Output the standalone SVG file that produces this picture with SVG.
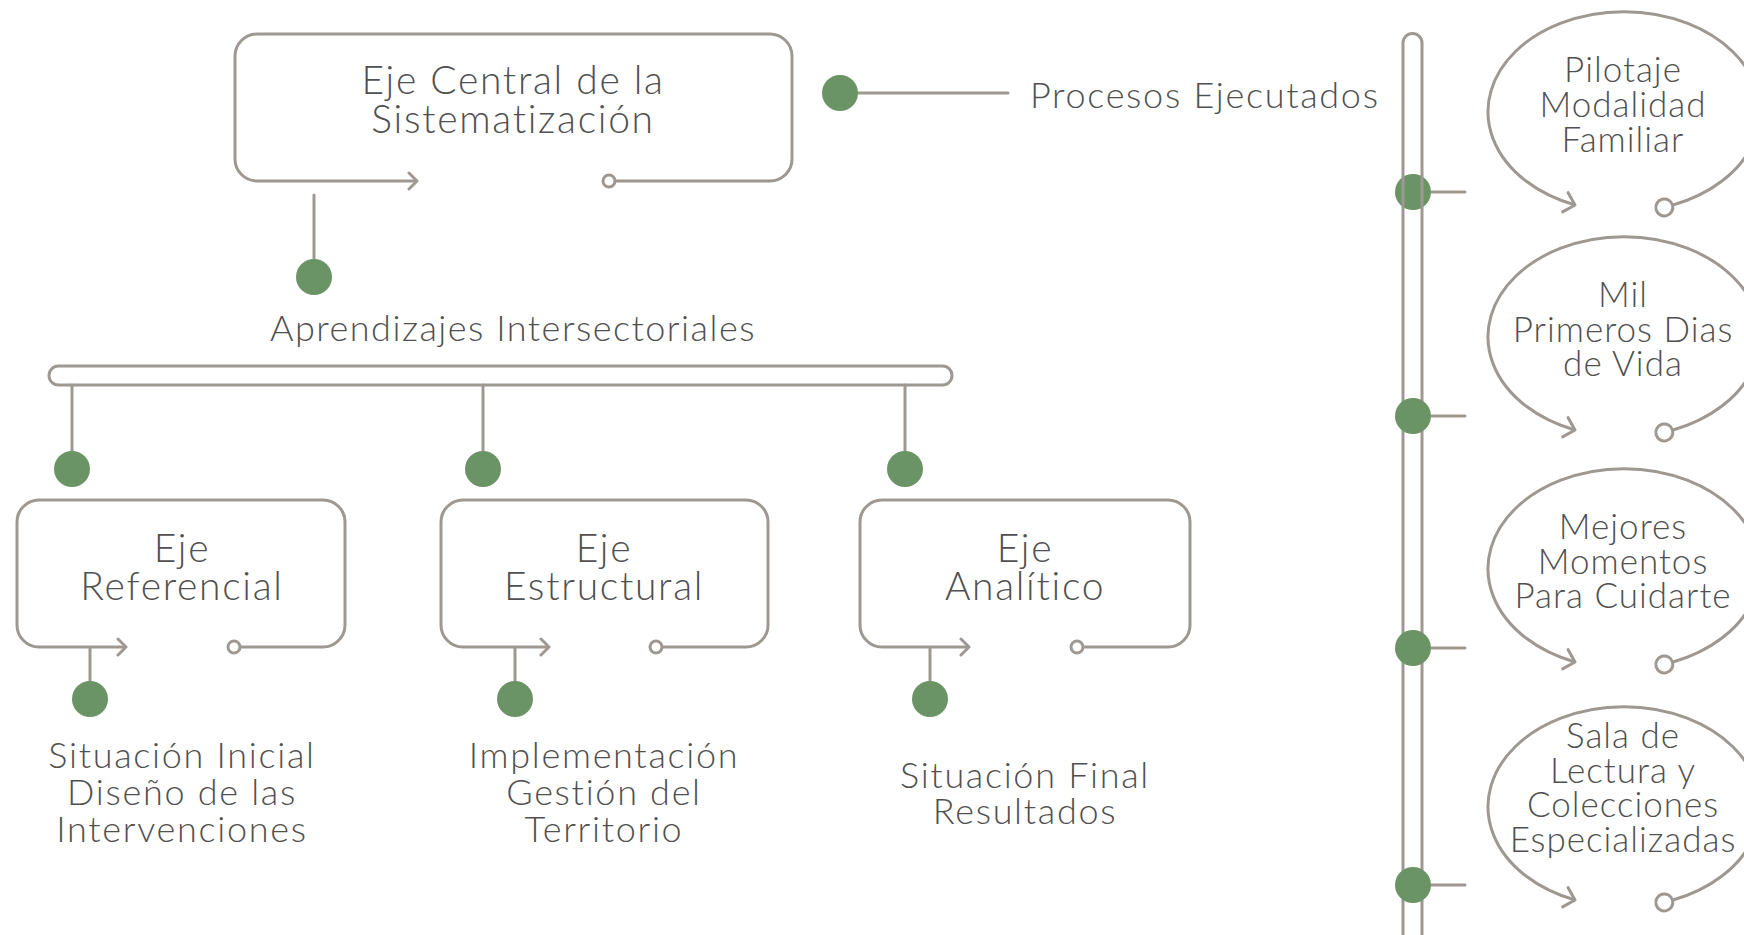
<svg xmlns="http://www.w3.org/2000/svg" width="1744" height="935" viewBox="0 0 1744 935">
<defs>
<style>
.ln{fill:none;stroke:#9e9892;stroke-width:3;stroke-linecap:round;stroke-linejoin:round}
.box{fill:none;stroke:#9e9892;stroke-width:3;marker-start:url(#arr);marker-end:url(#ring)}
.bub{fill:none;stroke:#9e9892;stroke-width:3;marker-start:url(#arrB);marker-end:url(#ringB)}
.dot{fill:#6b9466}
.t{font-family:Lato,"Liberation Sans",sans-serif;font-weight:300;font-size:36px;fill:#505050;text-anchor:middle}
.tb{font-size:39px;letter-spacing:1.7px}
.ts{font-size:36px;letter-spacing:1.7px}
.tm{letter-spacing:1.7px}
.tu{font-size:35px;letter-spacing:1px}
</style>
<marker id="arr" markerUnits="userSpaceOnUse" viewBox="0 0 16 20" markerWidth="16" markerHeight="20" refX="12" refY="10" orient="auto-start-reverse">
<path d="M4 2 L12 10 L4 18" fill="none" stroke="#9e9892" stroke-width="3" stroke-linecap="round" stroke-linejoin="round"/>
</marker>
<marker id="ring" markerUnits="userSpaceOnUse" viewBox="0 0 20 20" markerWidth="20" markerHeight="20" refX="3" refY="10" orient="auto">
<circle cx="10" cy="10" r="6" fill="#fff" stroke="#9e9892" stroke-width="3"/>
</marker>
<marker id="arrB" markerUnits="userSpaceOnUse" viewBox="0 0 20 24" markerWidth="20" markerHeight="24" refX="15" refY="12" orient="auto-start-reverse">
<path d="M5 2 L15 12 L5 22" fill="none" stroke="#9e9892" stroke-width="3" stroke-linecap="round" stroke-linejoin="round"/>
</marker>
<marker id="ringB" markerUnits="userSpaceOnUse" viewBox="0 0 24 24" markerWidth="24" markerHeight="24" refX="3" refY="12" orient="auto">
<circle cx="12" cy="12" r="8.5" fill="#fff" stroke="#9e9892" stroke-width="3"/>
</marker>
</defs>
<rect width="1744" height="935" fill="#fff"/>

<g id="connectors">
<path class="ln" d="M314 195 V262"/>
<path class="ln" d="M858 93 H1008"/>
<path class="ln" d="M72 385 V452"/>
<path class="ln" d="M483 385 V452"/>
<path class="ln" d="M905 385 V452"/>
<path class="ln" d="M90 648 V682"/>
<path class="ln" d="M515 648 V682"/>
<path class="ln" d="M930 648 V682"/>
<path class="ln" d="M1413 192 H1465"/>
<path class="ln" d="M1413 416 H1465"/>
<path class="ln" d="M1413 648 H1465"/>
<path class="ln" d="M1413 885 H1465"/>
</g>

<g id="dot-first"><circle class="dot" cx="1413" cy="192" r="18"/></g>

<g id="timeline">
<path class="ln" d="M1403 940 V43 A9.5 9.5 0 0 1 1422 43 V940"/>
</g>

<g id="dots">
<circle class="dot" cx="314" cy="277" r="18"/>
<circle class="dot" cx="840" cy="93" r="18"/>
<circle class="dot" cx="72" cy="469" r="18"/>
<circle class="dot" cx="483" cy="469" r="18"/>
<circle class="dot" cx="905" cy="469" r="18"/>
<circle class="dot" cx="90" cy="699" r="18"/>
<circle class="dot" cx="515" cy="699" r="18"/>
<circle class="dot" cx="930" cy="699" r="18"/>
<circle class="dot" cx="1413" cy="416" r="18"/>
<circle class="dot" cx="1413" cy="648" r="18"/>
<circle class="dot" cx="1413" cy="885" r="18"/>
</g>

<g id="central">
<path class="box" d="M417 181 H257 A22 22 0 0 1 235 159 V56 A22 22 0 0 1 257 34 H770 A22 22 0 0 1 792 56 V159 A22 22 0 0 1 770 181 H616"/>
<text class="t tb" x="513" y="94">Eje Central de la</text>
<text class="t tb" x="513" y="133">Sistematización</text>
</g>

<g id="procesos">
<text class="t tm" x="1030" y="108" style="text-anchor:start">Procesos Ejecutados</text>
</g>

<g id="aprendizajes">
<text class="t" x="513" y="341" style="letter-spacing:1.5px">Aprendizajes Intersectoriales</text>
<rect class="ln" x="49" y="366" width="903" height="19" rx="9.5"/>
</g>

<g id="referencial">
<path class="box" d="M126 647 H39 A22 22 0 0 1 17 625 V522 A22 22 0 0 1 39 500 H323 A22 22 0 0 1 345 522 V625 A22 22 0 0 1 323 647 H241"/>
<text class="t tb" x="182" y="562">Eje</text>
<text class="t tb" x="182" y="600">Referencial</text>
</g>
<g id="estructural">
<path class="box" d="M549 647 H463 A22 22 0 0 1 441 625 V522 A22 22 0 0 1 463 500 H746 A22 22 0 0 1 768 522 V625 A22 22 0 0 1 746 647 H663"/>
<text class="t tb" x="604" y="562">Eje</text>
<text class="t tb" x="604" y="600">Estructural</text>
</g>
<g id="analitico">
<path class="box" d="M969 647 H882 A22 22 0 0 1 860 625 V522 A22 22 0 0 1 882 500 H1168 A22 22 0 0 1 1190 522 V625 A22 22 0 0 1 1168 647 H1084"/>
<text class="t tb" x="1025" y="562">Eje</text>
<text class="t tb" x="1025" y="600">Analítico</text>
</g>

<g id="situacion-inicial">
<text class="t ts" x="182" y="768">Situación Inicial</text>
<text class="t ts" x="182" y="805">Diseño de las</text>
<text class="t ts" x="182" y="842">Intervenciones</text>
</g>
<g id="implementacion">
<text class="t ts" x="604" y="768">Implementación</text>
<text class="t ts" x="604" y="805">Gestión del</text>
<text class="t ts" x="604" y="842">Territorio</text>
</g>
<g id="situacion-final">
<text class="t ts" x="1025" y="788">Situación Final</text>
<text class="t ts" x="1025" y="824">Resultados</text>
</g>

<g id="pilotaje">
<path class="bub" d="M1575 205 A136 100 0 1 1 1673 205"/>
<text class="t tu" x="1623" y="82">Pilotaje</text>
<text class="t tu" x="1623" y="117">Modalidad</text>
<text class="t tu" x="1623" y="152">Familiar</text>
</g>
<g id="mil-dias">
<path class="bub" d="M1575 430 A136 100 0 1 1 1673 430"/>
<text class="t tu" x="1623" y="307">Mil</text>
<text class="t tu" x="1623" y="342">Primeros Dias</text>
<text class="t tu" x="1623" y="376">de Vida</text>
</g>
<g id="mejores-momentos">
<path class="bub" d="M1575 662 A136 100 0 1 1 1673 662"/>
<text class="t tu" x="1623" y="539">Mejores</text>
<text class="t tu" x="1623" y="574">Momentos</text>
<text class="t tu" x="1623" y="608">Para Cuidarte</text>
</g>
<g id="sala-lectura">
<path class="bub" d="M1575 900 A136 100 0 1 1 1673 900"/>
<text class="t tu" x="1623" y="748">Sala de</text>
<text class="t tu" x="1623" y="783">Lectura y</text>
<text class="t tu" x="1623" y="817">Colecciones</text>
<text class="t tu" x="1623" y="852">Especializadas</text>
</g>
</svg>
